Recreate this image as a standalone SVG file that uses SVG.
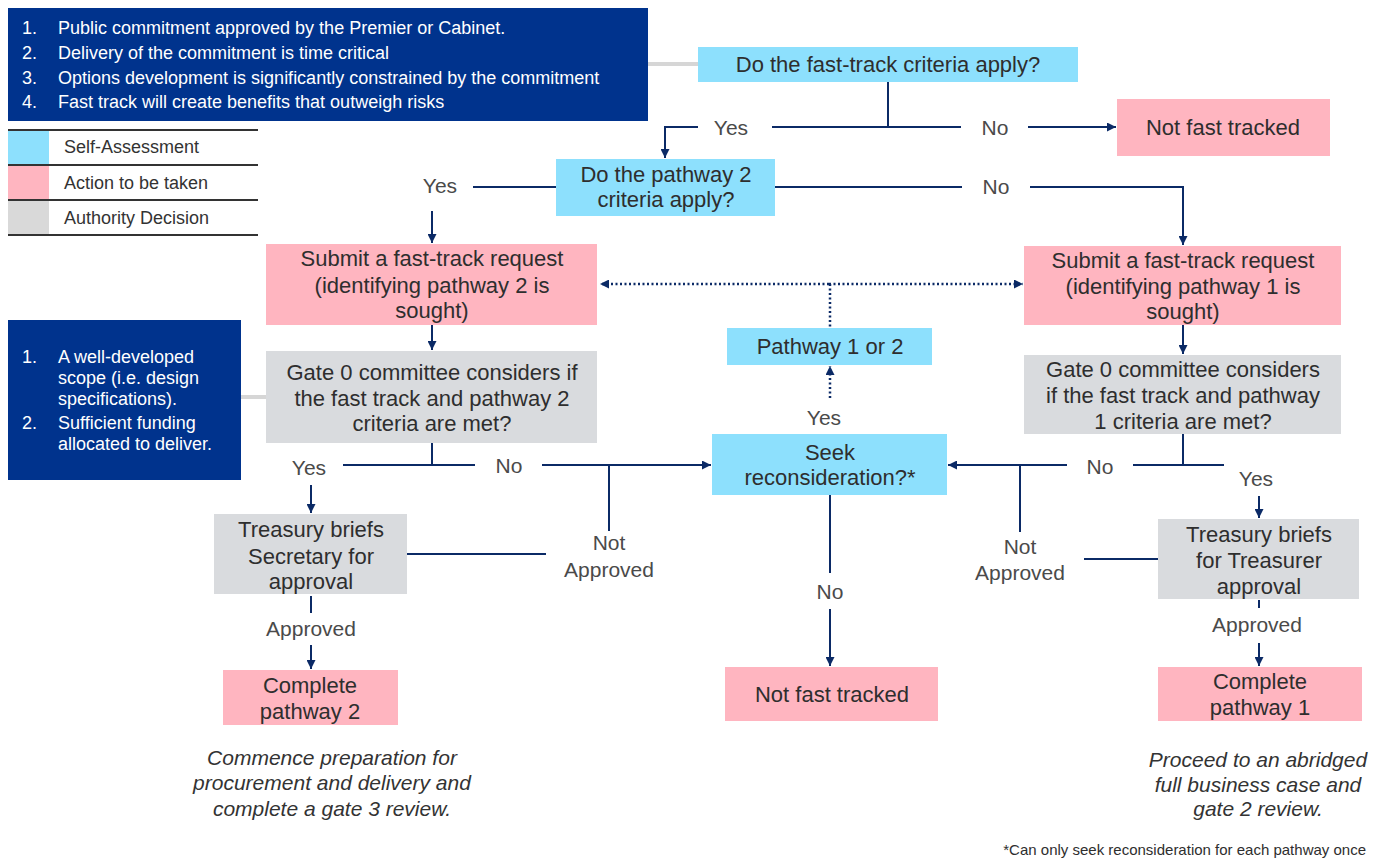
<svg xmlns="http://www.w3.org/2000/svg" width="1381" height="859" viewBox="0 0 1381 859">
<style>
text{font-family:"Liberation Sans",Arial,sans-serif;fill:#2e2e2e}
.n{font-size:22px;text-anchor:middle}
.lb{font-size:21px;text-anchor:middle;fill:#4a4a4a}
.w{font-size:18px;fill:#ffffff}
.lg{font-size:18px;fill:#333}
.it{font-size:21px;font-style:italic;text-anchor:middle;fill:#333}
.sa{fill:#8de0fd}
.ac{fill:#ffb5c0}
.ad{fill:#d9dbde}
.db{fill:#00338d}
.c{fill:none;stroke:#0b2a66;stroke-width:2}
.d{fill:none;stroke:#0b2a66;stroke-width:2.5;stroke-dasharray:2 2.5}
.g{stroke:#d6d6d6;stroke-width:4}
</style>
<defs>
<marker id="ah" viewBox="0 0 10 10" refX="10" refY="5" markerWidth="9" markerHeight="9" markerUnits="userSpaceOnUse" orient="auto">
<path d="M0,0 L10,5 L0,10 z" fill="#0b2a66"/>
</marker>
</defs>

<g id="criteria-top">
<line class="g" x1="648" y1="64" x2="698" y2="64"/>
<rect class="db" x="8" y="8" width="640" height="113"/>
<text class="w" x="22" y="34">1.</text><text class="w" x="58" y="34">Public commitment approved by the Premier or Cabinet.</text>
<text class="w" x="22" y="59">2.</text><text class="w" x="58" y="59">Delivery of the commitment is time critical</text>
<text class="w" x="22" y="84">3.</text><text class="w" x="58" y="84">Options development is significantly constrained by the commitment</text>
<text class="w" x="22" y="108">4.</text><text class="w" x="58" y="108">Fast track will create benefits that outweigh risks</text>
</g>

<g id="legend">
<rect class="sa" x="8" y="130" width="41" height="35"/>
<rect class="ac" x="8" y="165" width="41" height="35"/>
<rect fill="#d9d9d9" x="8" y="200" width="41" height="35"/>
<line x1="8" y1="130" x2="258" y2="130" stroke="#333" stroke-width="2"/>
<line x1="8" y1="165" x2="258" y2="165" stroke="#333" stroke-width="2"/>
<line x1="8" y1="200" x2="258" y2="200" stroke="#333" stroke-width="2"/>
<line x1="8" y1="235" x2="258" y2="235" stroke="#333" stroke-width="2"/>
<text class="lg" x="64" y="153">Self-Assessment</text>
<text class="lg" x="64" y="189">Action to be taken</text>
<text class="lg" x="64" y="224">Authority Decision</text>
</g>

<g id="criteria-p2">
<line class="g" x1="241" y1="397" x2="266" y2="397"/>
<rect class="db" x="8" y="320" width="233" height="160"/>
<text class="w" x="22" y="363">1.</text><text class="w" x="58" y="363">A well-developed</text>
<text class="w" x="58" y="384">scope (i.e. design</text>
<text class="w" x="58" y="405">specifications).</text>
<text class="w" x="22" y="429">2.</text><text class="w" x="58" y="429">Sufficient funding</text>
<text class="w" x="58" y="450">allocated to deliver.</text>
</g>

<g id="connectors">
<line class="c" x1="888" y1="82" x2="888" y2="127"/>
<line class="c" x1="772" y1="127" x2="961" y2="127"/>
<line class="c" x1="1028" y1="127" x2="1116" y2="127" marker-end="url(#ah)"/>
<polyline class="c" points="698,127 665,127 665,158" marker-end="url(#ah)"/>
<line class="c" x1="473" y1="187" x2="557" y2="187"/>
<line class="c" x1="432" y1="211" x2="432" y2="243" marker-end="url(#ah)"/>
<line class="c" x1="775" y1="187" x2="962" y2="187"/>
<polyline class="c" points="1030,187 1183,187 1183,245" marker-end="url(#ah)"/>
<line class="d" x1="829" y1="284" x2="600" y2="284" marker-end="url(#ah)"/>
<line class="d" x1="829" y1="284" x2="1023" y2="284" marker-end="url(#ah)"/>
<line class="d" x1="830" y1="284" x2="830" y2="328"/>
<line class="d" x1="830" y1="398" x2="830" y2="366" marker-end="url(#ah)"/>
<line class="c" x1="432" y1="325" x2="432" y2="350" marker-end="url(#ah)"/>
<line class="c" x1="1183" y1="325" x2="1183" y2="354" marker-end="url(#ah)"/>
<line class="c" x1="432" y1="443" x2="432" y2="465"/>
<line class="c" x1="343" y1="465" x2="475" y2="465"/>
<line class="c" x1="542" y1="465" x2="711" y2="465" marker-end="url(#ah)"/>
<line class="c" x1="609" y1="465" x2="609" y2="531"/>
<line class="c" x1="407" y1="554" x2="546" y2="554"/>
<line class="c" x1="311" y1="485" x2="311" y2="513" marker-end="url(#ah)"/>
<line class="c" x1="311" y1="596" x2="311" y2="613"/>
<line class="c" x1="311" y1="645" x2="311" y2="669" marker-end="url(#ah)"/>
<line class="c" x1="1183" y1="434" x2="1183" y2="465"/>
<line class="c" x1="1133" y1="465" x2="1224" y2="465"/>
<line class="c" x1="1067" y1="465" x2="948" y2="465" marker-end="url(#ah)"/>
<line class="c" x1="1020" y1="465" x2="1020" y2="532"/>
<line class="c" x1="1084" y1="559" x2="1158" y2="559"/>
<line class="c" x1="1259" y1="496" x2="1259" y2="518" marker-end="url(#ah)"/>
<line class="c" x1="1259" y1="600" x2="1259" y2="608"/>
<line class="c" x1="1259" y1="643" x2="1259" y2="666" marker-end="url(#ah)"/>
<line class="c" x1="830" y1="495" x2="830" y2="573"/>
<line class="c" x1="830" y1="609" x2="830" y2="666" marker-end="url(#ah)"/>
</g>

<g id="labels">
<text class="lb" x="731" y="135">Yes</text>
<text class="lb" x="995" y="135">No</text>
<text class="lb" x="440" y="193">Yes</text>
<text class="lb" x="996" y="194">No</text>
<text class="lb" x="824" y="425">Yes</text>
<text class="lb" x="309" y="475">Yes</text>
<text class="lb" x="509" y="473">No</text>
<text class="lb" x="1100" y="474">No</text>
<text class="lb" x="1256" y="486">Yes</text>
<text class="lb" x="609" y="550">Not</text>
<text class="lb" x="609" y="577">Approved</text>
<text class="lb" x="1020" y="554">Not</text>
<text class="lb" x="1020" y="580">Approved</text>
<text class="lb" x="311" y="636">Approved</text>
<text class="lb" x="1257" y="632">Approved</text>
<text class="lb" x="830" y="599">No</text>
</g>

<g id="q-fasttrack">
<rect class="sa" x="698" y="47" width="380" height="35"/>
<text class="n" x="888" y="72">Do the fast-track criteria apply?</text>
</g>
<g id="not-fast-tracked-top">
<rect class="ac" x="1117" y="99" width="213" height="57"/>
<text class="n" x="1223" y="135">Not fast tracked</text>
</g>
<g id="q-pathway2">
<rect class="sa" x="556" y="159" width="219" height="57"/>
<text class="n" x="666" y="182">Do the pathway 2</text>
<text class="n" x="666" y="207">criteria apply?</text>
</g>
<g id="submit-p2">
<rect class="ac" x="266" y="244" width="331" height="81"/>
<text class="n" x="432" y="266">Submit a fast-track request</text>
<text class="n" x="432" y="293">(identifying pathway 2 is</text>
<text class="n" x="432" y="318">sought)</text>
</g>
<g id="submit-p1">
<rect class="ac" x="1024" y="246" width="317" height="79"/>
<text class="n" x="1183" y="268">Submit a fast-track request</text>
<text class="n" x="1183" y="294">(identifying pathway 1 is</text>
<text class="n" x="1183" y="319">sought)</text>
</g>
<g id="pathway-1-or-2">
<rect class="sa" x="727" y="328" width="205" height="37"/>
<text class="n" x="830" y="354">Pathway 1 or 2</text>
</g>
<g id="gate0-p2">
<rect class="ad" x="266" y="351" width="331" height="92"/>
<text class="n" x="432" y="380">Gate 0 committee considers if</text>
<text class="n" x="432" y="406">the fast track and pathway 2</text>
<text class="n" x="432" y="431">criteria are met?</text>
</g>
<g id="gate0-p1">
<rect class="ad" x="1024" y="355" width="317" height="79"/>
<text class="n" x="1183" y="377">Gate 0 committee considers</text>
<text class="n" x="1183" y="403">if the fast track and pathway</text>
<text class="n" x="1183" y="429">1 criteria are met?</text>
</g>
<g id="seek-reconsideration">
<rect class="sa" x="712" y="434" width="235" height="61"/>
<text class="n" x="830" y="460">Seek</text>
<text class="n" x="830" y="485">reconsideration?*</text>
</g>
<g id="treasury-secretary">
<rect class="ad" x="214" y="514" width="193" height="80"/>
<text class="n" x="311" y="537">Treasury briefs</text>
<text class="n" x="311" y="564">Secretary for</text>
<text class="n" x="311" y="589">approval</text>
</g>
<g id="treasury-treasurer">
<rect class="ad" x="1158" y="519" width="201" height="80"/>
<text class="n" x="1259" y="542">Treasury briefs</text>
<text class="n" x="1259" y="568">for Treasurer</text>
<text class="n" x="1259" y="594">approval</text>
</g>
<g id="complete-p2">
<rect class="ac" x="223" y="670" width="175" height="55"/>
<text class="n" x="310" y="693">Complete</text>
<text class="n" x="310" y="719">pathway 2</text>
</g>
<g id="not-fast-tracked-bottom">
<rect class="ac" x="725" y="667" width="213" height="54"/>
<text class="n" x="832" y="702">Not fast tracked</text>
</g>
<g id="complete-p1">
<rect class="ac" x="1158" y="667" width="204" height="54"/>
<text class="n" x="1260" y="689">Complete</text>
<text class="n" x="1260" y="715">pathway 1</text>
</g>
<g id="notes">
<text class="it" x="332" y="765">Commence preparation for</text>
<text class="it" x="332" y="790">procurement and delivery and</text>
<text class="it" x="332" y="816">complete a gate 3 review.</text>
<text class="it" x="1258" y="767">Proceed to an abridged</text>
<text class="it" x="1258" y="792">full business case and</text>
<text class="it" x="1258" y="816">gate 2 review.</text>
<text x="1366" y="855" font-size="15" text-anchor="end" fill="#333">*Can only seek reconsideration for each pathway once</text>
</g>
</svg>
